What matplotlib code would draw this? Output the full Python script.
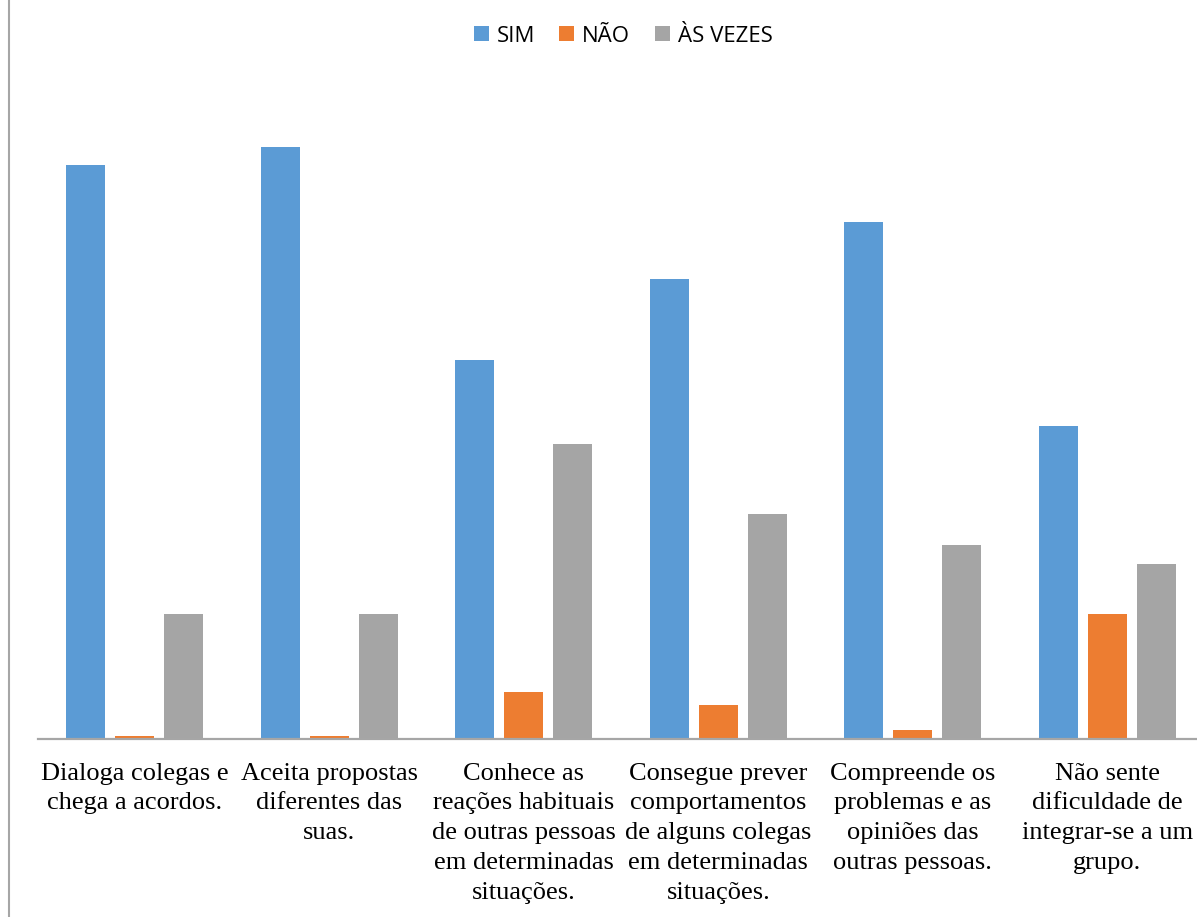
import numpy as np
import matplotlib
matplotlib.use("Agg")
import matplotlib.pyplot as plt
from matplotlib.lines import Line2D

categories = [
    "Dialoga colegas e\nchega a acordos.",
    "Aceita propostas\ndiferentes das\nsuas.",
    "Conhece as\nreações habituais\nde outras pessoas\nem determinadas\nsituações.",
    "Consegue prever\ncomportamentos\nde alguns colegas\nem determinadas\nsituações.",
    "Compreende os\nproblemas e as\nopiniões das\noutras pessoas.",
    "Não sente\ndificuldade de\nintegrar-se a um\ngrupo.",
]
series_names = ["SIM", "NÃO", "ÀS VEZES"]
sim = [79.7, 82.2, 52.6, 63.9, 71.8, 43.5]
nao = [0.4, 0.4, 6.5, 4.7, 1.3, 17.4]
as_vezes = [17.4, 17.4, 41.0, 31.3, 26.9, 24.3]
colors = ["#5b9bd5", "#ed7d31", "#a5a5a5"]

W, H = 1197, 917
fig = plt.figure(figsize=(W / 100, H / 100), dpi=100)

# plot area in pixel coordinates (left, bottom edge, right, top)
x0, x1 = 37.5, 1204.5
y_base, y_top = 739, 100
ax = fig.add_axes([x0 / W, 1 - y_base / H, (x1 - x0) / W, (y_base - y_top) / H])

x = np.arange(len(categories))
bw = 0.2
step = 0.252
for i, (vals, c) in enumerate(zip([sim, nao, as_vezes], colors)):
    ax.bar(x + (i - 1) * step, vals, width=bw, color=c, label=series_names[i],
           linewidth=0, zorder=2)

ax.set_xlim(-0.5, len(categories) - 0.5)
ax.set_ylim(0, 88.75)
for s in ["top", "right", "left"]:
    ax.spines[s].set_visible(False)
ax.spines["bottom"].set_color("#a6a6a6")
ax.spines["bottom"].set_linewidth(1.6)
ax.spines["bottom"].set_zorder(3)
ax.set_yticks([])
ax.set_xticks(x)
ax.set_xticklabels(categories, fontfamily="Liberation Serif", fontsize=19,
                   linespacing=1.46, color="#000000")
ax.tick_params(axis="x", length=0, pad=17)

leg = fig.legend(loc="center", bbox_to_anchor=(623 / W, 1 - 36 / H), ncol=3,
                 frameon=False, prop={"family": "Open Sans", "size": 16},
                 handlelength=0.68, handleheight=0.68, handletextpad=0.35,
                 columnspacing=1.1)

# chart border on the left side
fig.add_artist(Line2D([8.5 / W, 8.5 / W], [0, 1], color="#a6a6a6", linewidth=1.5))

fig.savefig("out.png", dpi=100)
